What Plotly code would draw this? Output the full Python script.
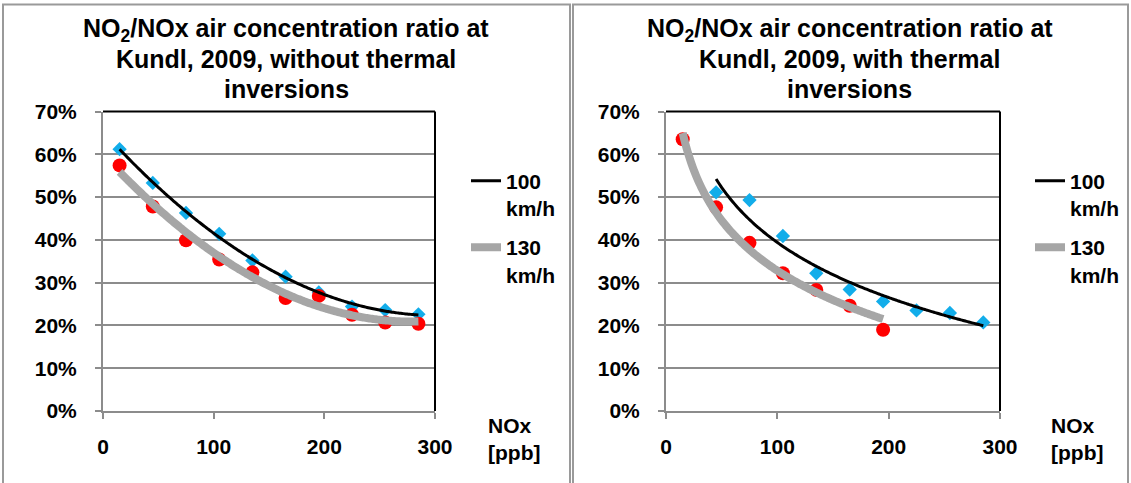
import numpy as np
import plotly.graph_objects as go

W, H = 1131, 483

# ---------------- data ----------------
nox_bins = [15, 45, 75, 105, 135, 165, 195, 225, 255, 285]

# left panel: without thermal inversions
left_100 = [0.612, 0.533, 0.463, 0.414, 0.352, 0.314, 0.277, 0.244, 0.236, 0.226]
left_130 = [0.574, 0.478, 0.399, 0.354, 0.324, 0.264, 0.269, 0.225, 0.207, 0.204]

# right panel: with thermal inversions
right_100_x = [45, 75, 105, 135, 165, 195, 225, 255, 285]
right_100 = [0.511, 0.493, 0.409, 0.322, 0.284, 0.256, 0.235, 0.229, 0.207]
right_130_x = [15, 45, 75, 105, 135, 165, 195]
right_130 = [0.635, 0.476, 0.393, 0.322, 0.283, 0.246, 0.190]

title_lines = [
    ["NO<sub>2</sub>/NOx air concentration ratio at", "Kundl, 2009, without thermal", "inversions"],
    ["NO<sub>2</sub>/NOx air concentration ratio at", "Kundl, 2009, with thermal", "inversions"],
]
series_names = ["100<br>km/h", "130<br>km/h"]
x_title = "NOx<br>[ppb]"
x_ticks = [0, 100, 200, 300]
y_ticks = [0, 0.1, 0.2, 0.3, 0.4, 0.5, 0.6, 0.7]

# ---------------- trendlines (fitted like Excel trendlines) ----------------
def poly2_trend(x, y):
    c = np.polyfit(x, y, 2)
    xs = np.linspace(min(x), max(x), 120)
    return xs, np.polyval(c, xs)

def log_trend(x, y):
    c = np.polyfit(np.log(x), y, 1)
    xs = np.linspace(min(x), max(x), 120)
    return xs, c[0] * np.log(xs) + c[1]

FONT = "Arial, 'Liberation Sans', sans-serif"
BLUE = "#12ADEA"
RED = "#FF0000"
GRAY_LINE = "#A6A6A6"
GRID = "#8C8C8C"

fig = go.Figure()

def add_panel(xa, ya, leg, bx, by, rx, ry, bfit, rfit):
    fig.add_trace(go.Scatter(x=bx, y=by, mode="markers", xaxis=xa, yaxis=ya,
                             marker=dict(symbol="diamond", size=11, color=BLUE),
                             showlegend=False, hoverinfo="skip"))
    fig.add_trace(go.Scatter(x=rx, y=ry, mode="markers", xaxis=xa, yaxis=ya,
                             marker=dict(symbol="circle", size=14, color=RED),
                             showlegend=False, hoverinfo="skip"))
    gx, gy = rfit(rx, ry)
    fig.add_trace(go.Scatter(x=gx, y=gy, mode="lines", xaxis=xa, yaxis=ya,
                             line=dict(color=GRAY_LINE, width=8, shape="spline"),
                             name=series_names[1], legend=leg, legendrank=2,
                             legendgroup=leg + "b"))
    kx, ky = bfit(bx, by)
    fig.add_trace(go.Scatter(x=kx, y=ky, mode="lines", xaxis=xa, yaxis=ya,
                             line=dict(color="black", width=3, shape="spline"),
                             name=series_names[0], legend=leg, legendrank=1,
                             legendgroup=leg + "a"))

add_panel("x", "y", "legend", nox_bins, left_100, nox_bins, left_130, poly2_trend, poly2_trend)
add_panel("x2", "y2", "legend2", right_100_x, right_100, right_130_x, right_130, log_trend, log_trend)

y0 = 1 - 411 / H
y1 = 1 - 111.5 / H
dom_left = [103 / W, 435 / W]
dom_right = [666 / W, 1000 / W]

TICKFONT = dict(family=FONT, size=21, color="black", weight="bold")
axis_common = dict(
    showline=True, linecolor=GRID, linewidth=2,
    ticks="outside", tickcolor=GRID, tickwidth=2, ticklen=6,
    tickfont=TICKFONT, zeroline=False, automargin=False,
)
xcommon = dict(axis_common, range=[0, 300], tickvals=x_ticks, showgrid=False,
               ticklabelstandoff=10)
ycommon = dict(axis_common, range=[0, 0.7], tickvals=y_ticks, tickformat=".0%",
               showgrid=True, gridcolor=GRID, gridwidth=2, ticklabelstandoff=14)

legend_common = dict(
    font=dict(family=FONT, size=21, color="black", weight="bold"),
    bgcolor="rgba(0,0,0,0)", valign="top", tracegroupgap=9,
    xanchor="left", yanchor="top", itemwidth=30,
)

fig.update_layout(
    width=W, height=H,
    margin=dict(l=0, r=0, t=0, b=0, autoexpand=False),
    paper_bgcolor="white", plot_bgcolor="white",
    font=dict(family=FONT, color="black"),
    xaxis=dict(xcommon, domain=dom_left, anchor="y"),
    yaxis=dict(ycommon, domain=[y0, y1], anchor="x"),
    xaxis2=dict(xcommon, domain=dom_right, anchor="y2"),
    yaxis2=dict(ycommon, domain=[y0, y1], anchor="x2"),
    legend=dict(legend_common, x=466 / W, y=1 - 160.5 / H),
    legend2=dict(legend_common, x=1030 / W, y=1 - 160.5 / H),
)

# plot-area border (top & right in black)
for xd, yd in (("x domain", "y domain"), ("x2 domain", "y2 domain")):
    fig.add_shape(type="line", xref=xd, yref=yd, x0=0, x1=1, y0=1, y1=1,
                  line=dict(color="black", width=2))
    fig.add_shape(type="line", xref=xd, yref=yd, x0=1, x1=1, y0=0, y1=1,
                  line=dict(color="black", width=2))

# chart panel frames
for a, b in ((3, 570), (573, 1128)):
    fig.add_shape(type="rect", xref="paper", yref="paper",
                  x0=a / W, x1=b / W, y0=-0.1, y1=1 - 4.5 / H,
                  line=dict(color="#9A9A9A", width=2), layer="below")

# titles (one annotation per line for tighter line spacing)
for cx, lines in ((286, title_lines[0]), (850, title_lines[1])):
    for ly, txt in zip((30, 59.5, 89), lines):
        fig.add_annotation(text=txt, xref="paper", yref="paper", x=cx / W, y=1 - ly / H,
                           xanchor="center", yanchor="middle", showarrow=False,
                           font=dict(family=FONT, size=25, color="black", weight="bold"))

# x axis titles
for lx in (486, 1049):
    fig.add_annotation(text=x_title, xref="paper", yref="paper",
                       x=lx / W, y=1 - 412 / H, xanchor="left", yanchor="top",
                       align="left", showarrow=False,
                       font=dict(family=FONT, size=21, color="black", weight="bold"))

fig.write_html("out.html", config={"displayModeBar": False},
               post_script="document.body.style.margin='0';")
